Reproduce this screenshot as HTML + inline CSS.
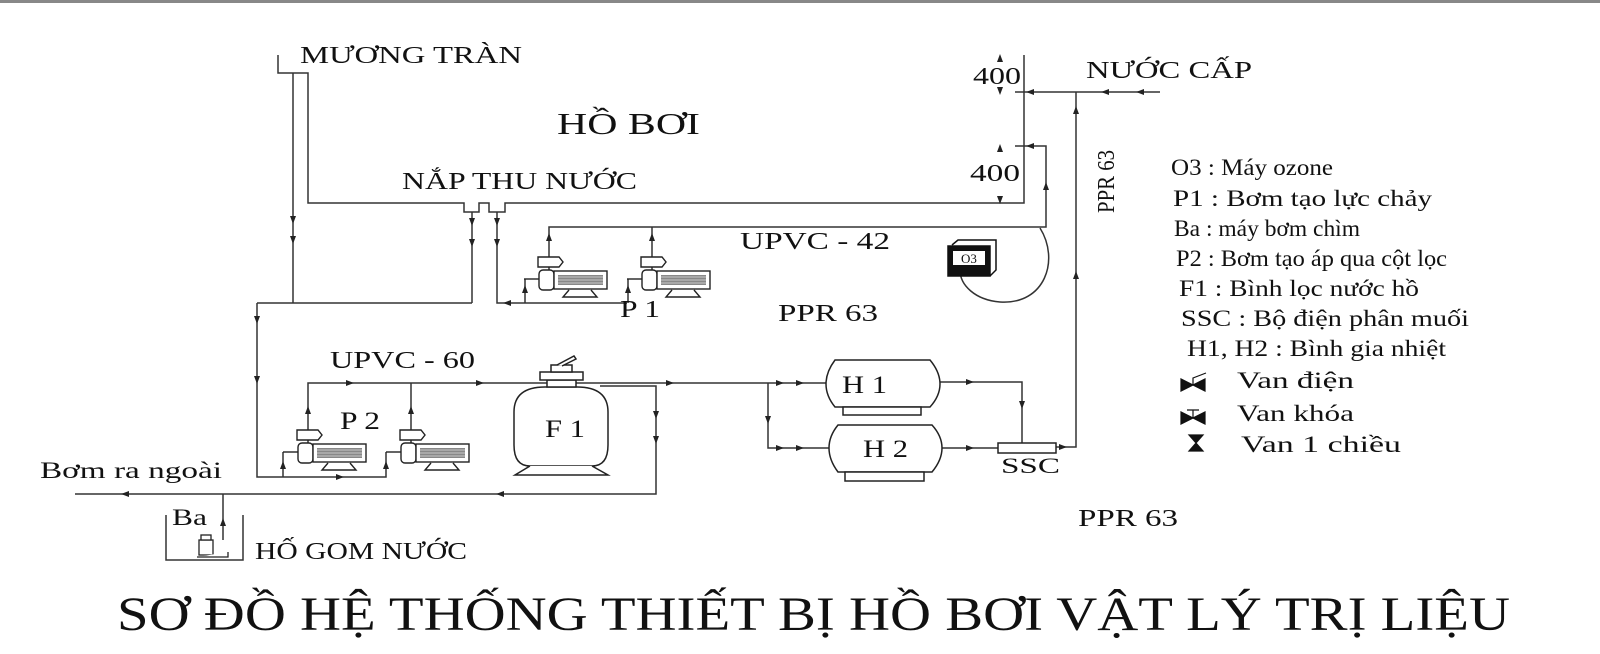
<!DOCTYPE html>
<html><head><meta charset="utf-8"><style>
html,body{margin:0;padding:0;background:#fff;}
svg{display:block;}
text{font-family:"Liberation Serif",serif;fill:#111;}
</style></head><body>
<svg width="1600" height="654" viewBox="0 0 1600 654" xmlns="http://www.w3.org/2000/svg">
<defs>
<g id="pump" stroke="#222" stroke-width="1.4" fill="#fff">
  <path d="M-11,0 H10 L14,5 L10,10 H-11 Z"/>
  <rect x="-10" y="13" width="15" height="20" rx="4"/>
  <rect x="5" y="14" width="53" height="18"/>
  <rect x="9" y="18" width="45" height="10" fill="#888" stroke="none"/>
  <line x1="9" y1="20" x2="54" y2="20" stroke="#ddd" stroke-width="0.7"/>
  <line x1="9" y1="23" x2="54" y2="23" stroke="#ddd" stroke-width="0.7"/>
  <line x1="9" y1="26" x2="54" y2="26" stroke="#ddd" stroke-width="0.7"/>
  <path d="M20,33 L14,40 H48 L42,33"/>
  <line x1="0" y1="10" x2="0" y2="13"/>
  <path d="M-10,22 H-25" fill="none"/>
</g>
<path id="ar" d="M-4,-3 L4,0 L-4,3 Z" fill="#222"/>
</defs>
<line x1="0" y1="1.5" x2="1600" y2="1.5" stroke="#888" stroke-width="3"/>
<g stroke="#333" stroke-width="1.5" fill="none">
  <path d="M278,55 V73 H308 V203 H464 V212 H479 V203 H489 V212 H505 V203 H1024 V55"/>
  <line x1="293" y1="73" x2="293" y2="303"/>
  <line x1="472" y1="212" x2="472" y2="303"/>
  <path d="M257,303 H472"/>
  <path d="M497,212 V303 H627"/>
  <line x1="525" y1="279" x2="525" y2="303"/>
  <line x1="628" y1="279" x2="628" y2="303"/>
  <path d="M549,257 V227 H1046 V146 H1015"/>
  <line x1="652" y1="227" x2="652" y2="257"/>
  <path d="M1040,228 C1060,260 1045,305 1000,302 C975,300 960,285 960,270"/>
  <path d="M1015,92 H1160"/>
  <path d="M1076,92 V447 H1056"/>
  <path d="M257,303 V477 H386 V452"/>
  <line x1="283" y1="477" x2="283" y2="452"/>
  <path d="M308,430 V383 H827"/>
  <line x1="411" y1="383" x2="411" y2="430"/>
  <path d="M600,386 H656 V494 H75"/>
  <path d="M223,494 V540"/>
  <path d="M166,515 V560 H243 V515"/>
  <path d="M768,383 V448 H830"/>
  <path d="M937,382 H1022 V443"/>
  <path d="M940,448 H998"/>
</g>
<use href="#pump" x="549" y="257"/>
<use href="#pump" x="652" y="257"/>
<use href="#pump" x="308" y="430"/>
<use href="#pump" x="411" y="430"/>
<g stroke="#222" stroke-width="1.5" fill="#fff">
  <path d="M530,466 Q514,466 514,445 V412 Q514,387 545,387 H577 Q608,387 608,412 V445 Q608,466 592,466 Z"/>
  <path d="M530,466 L515,475 H608 L592,466"/>
  <rect x="547" y="380" width="29" height="7"/>
  <rect x="540" y="372" width="43" height="8"/>
  <rect x="551" y="365" width="21" height="7"/>
  <path d="M557,365 L574,356 L576,359 L562,366" />
</g>
<g stroke="#222" stroke-width="1.5" fill="#fff">
  <path d="M835,360 H930 Q940,372 940,384 Q940,396 930,407 H835 Q826,396 826,384 Q826,372 835,360 Z"/>
  <rect x="843" y="407" width="78" height="8"/>
  <path d="M838,425 H932 Q942,436 942,448 Q942,460 932,472 H838 Q829,460 829,448 Q829,436 838,425 Z"/>
  <rect x="845" y="472" width="79" height="9"/>
  <rect x="998" y="443" width="58" height="10"/>
</g>
<g stroke="#111" stroke-width="1.5">
  <path d="M952,245 L958,240 H996 V270 L990,276" fill="#fff"/>
  <rect x="948" y="246" width="42" height="30" fill="#111"/>
  <rect x="953" y="251" width="32" height="14" fill="#fff" stroke="none"/>
</g>
<text x="969" y="263" font-size="13" text-anchor="middle">O3</text>
<g stroke="#222" stroke-width="1.3" fill="#fff">
  <rect x="199" y="540" width="14" height="15"/>
  <rect x="201" y="535" width="10" height="5"/>
  <path d="M197,557 H228 V552"/>
</g>
<g>
  <use href="#ar" transform="translate(293,220) rotate(90)"/>
  <use href="#ar" transform="translate(293,240) rotate(90)"/>
  <use href="#ar" transform="translate(472,222) rotate(90)"/>
  <use href="#ar" transform="translate(472,243) rotate(90)"/>
  <use href="#ar" transform="translate(497,222) rotate(90)"/>
  <use href="#ar" transform="translate(497,243) rotate(90)"/>
  <use href="#ar" transform="translate(549,237) rotate(-90)"/>
  <use href="#ar" transform="translate(652,237) rotate(-90)"/>
  <use href="#ar" transform="translate(525,289) rotate(-90)"/>
  <use href="#ar" transform="translate(628,289) rotate(-90)"/>
  <use href="#ar" transform="translate(507,303) rotate(180)"/>
  <use href="#ar" transform="translate(1046,186) rotate(-90)"/>
  <use href="#ar" transform="translate(1030,146) rotate(180)"/>
  <use href="#ar" transform="translate(1030,92) rotate(180)"/>
  <use href="#ar" transform="translate(1105,92) rotate(180)"/>
  <use href="#ar" transform="translate(1140,92) rotate(180)"/>
  <use href="#ar" transform="translate(1076,110) rotate(-90)"/>
  <use href="#ar" transform="translate(1076,275) rotate(-90)"/>
  <use href="#ar" transform="translate(257,380) rotate(90)"/>
  <use href="#ar" transform="translate(257,320) rotate(90)"/>
  <use href="#ar" transform="translate(340,477)"/>
  <use href="#ar" transform="translate(283,465) rotate(-90)"/>
  <use href="#ar" transform="translate(386,465) rotate(-90)"/>
  <use href="#ar" transform="translate(308,410) rotate(-90)"/>
  <use href="#ar" transform="translate(411,410) rotate(-90)"/>
  <use href="#ar" transform="translate(350,383)"/>
  <use href="#ar" transform="translate(480,383)"/>
  <use href="#ar" transform="translate(670,383)"/>
  <use href="#ar" transform="translate(780,383)"/>
  <use href="#ar" transform="translate(800,383)"/>
  <use href="#ar" transform="translate(780,448)"/>
  <use href="#ar" transform="translate(800,448)"/>
  <use href="#ar" transform="translate(768,420) rotate(90)"/>
  <use href="#ar" transform="translate(656,415) rotate(90)"/>
  <use href="#ar" transform="translate(656,440) rotate(90)"/>
  <use href="#ar" transform="translate(500,494) rotate(180)"/>
  <use href="#ar" transform="translate(125,494) rotate(180)"/>
  <use href="#ar" transform="translate(223,522) rotate(-90)"/>
  <use href="#ar" transform="translate(970,382)"/>
  <use href="#ar" transform="translate(970,448)"/>
  <use href="#ar" transform="translate(1022,405) rotate(90)"/>
  <use href="#ar" transform="translate(1063,447)"/>
  <use href="#ar" transform="translate(1000,58) rotate(-90)"/>
  <use href="#ar" transform="translate(1000,91) rotate(90)"/>
  <use href="#ar" transform="translate(1000,148) rotate(-90)"/>
  <use href="#ar" transform="translate(1000,200) rotate(90)"/>
</g>
<g>
<text x="300" y="63" font-size="24" textLength="222" lengthAdjust="spacingAndGlyphs">MƯƠNG TRÀN</text>
<text x="557" y="134" font-size="31" textLength="143" lengthAdjust="spacingAndGlyphs">HỒ BƠI</text>
<text x="402" y="189" font-size="24" textLength="235" lengthAdjust="spacingAndGlyphs">NẮP THU NƯỚC</text>
<text x="973" y="84" font-size="24" textLength="48" lengthAdjust="spacingAndGlyphs">400</text>
<text x="970" y="181" font-size="24" textLength="50" lengthAdjust="spacingAndGlyphs">400</text>
<text x="1086" y="78" font-size="24" textLength="166" lengthAdjust="spacingAndGlyphs">NƯỚC CẤP</text>
<text transform="translate(1114,213) rotate(-90)" font-size="24" textLength="63" lengthAdjust="spacingAndGlyphs">PPR 63</text>
<text x="740" y="249" font-size="24" textLength="150" lengthAdjust="spacingAndGlyphs">UPVC - 42</text>
<text x="620" y="317" font-size="24" textLength="40" lengthAdjust="spacingAndGlyphs">P 1</text>
<text x="778" y="321" font-size="24" textLength="100" lengthAdjust="spacingAndGlyphs">PPR 63</text>
<text x="330" y="368" font-size="24" textLength="145" lengthAdjust="spacingAndGlyphs">UPVC - 60</text>
<text x="340" y="429" font-size="25" textLength="40" lengthAdjust="spacingAndGlyphs">P 2</text>
<text x="545" y="437" font-size="25" textLength="40" lengthAdjust="spacingAndGlyphs">F 1</text>
<text x="842" y="393" font-size="25" textLength="45" lengthAdjust="spacingAndGlyphs">H 1</text>
<text x="863" y="457" font-size="25" textLength="45" lengthAdjust="spacingAndGlyphs">H 2</text>
<text x="1001" y="473" font-size="22" textLength="59" lengthAdjust="spacingAndGlyphs">SSC</text>
<text x="1078" y="526" font-size="24" textLength="100" lengthAdjust="spacingAndGlyphs">PPR 63</text>
<text x="40" y="478" font-size="23" textLength="182" lengthAdjust="spacingAndGlyphs">Bơm ra ngoài</text>
<text x="172" y="525" font-size="23" textLength="35" lengthAdjust="spacingAndGlyphs">Ba</text>
<text x="255" y="559" font-size="24" textLength="212" lengthAdjust="spacingAndGlyphs">HỐ GOM NƯỚC</text>
<text x="117" y="630" font-size="48" textLength="1393" lengthAdjust="spacingAndGlyphs">SƠ ĐỒ HỆ THỐNG THIẾT BỊ HỒ BƠI VẬT LÝ TRỊ LIỆU</text>
</g>
<g font-size="23">
<text x="1171" y="175" textLength="162" lengthAdjust="spacingAndGlyphs">O3 : Máy ozone</text>
<text x="1173" y="206" textLength="259" lengthAdjust="spacingAndGlyphs">P1 : Bơm tạo lực chảy</text>
<text x="1174" y="236" textLength="186" lengthAdjust="spacingAndGlyphs">Ba : máy bơm chìm</text>
<text x="1176" y="266" textLength="271" lengthAdjust="spacingAndGlyphs">P2 : Bơm tạo áp qua cột lọc</text>
<text x="1179" y="296" textLength="240" lengthAdjust="spacingAndGlyphs">F1 : Bình lọc nước hồ</text>
<text x="1181" y="326" textLength="288" lengthAdjust="spacingAndGlyphs">SSC : Bộ điện phân muối</text>
<text x="1187" y="356" textLength="259" lengthAdjust="spacingAndGlyphs">H1, H2 : Bình gia nhiệt</text>
<text x="1237" y="388" textLength="117" lengthAdjust="spacingAndGlyphs">Van điện</text>
<text x="1237" y="421" textLength="117" lengthAdjust="spacingAndGlyphs">Van khóa</text>
<text x="1241" y="452" textLength="160" lengthAdjust="spacingAndGlyphs">Van 1 chiều</text>
</g>
<g fill="#111" stroke="#111" stroke-width="1.2">
  <path d="M1181,379 L1181,391 L1193,385 Z M1205,379 L1205,391 L1193,385 Z"/>
  <path d="M1193,385 V378 L1206,373" fill="none"/>
  <path d="M1181,412 L1181,424 L1193,418 Z M1205,412 L1205,424 L1193,418 Z"/>
  <path d="M1193,418 V410 M1187,410 H1199" fill="none"/>
  <path d="M1189,435 H1203 L1196,443 Z M1189,451 H1203 L1196,443 Z"/>
</g>
</svg>
</body></html>
